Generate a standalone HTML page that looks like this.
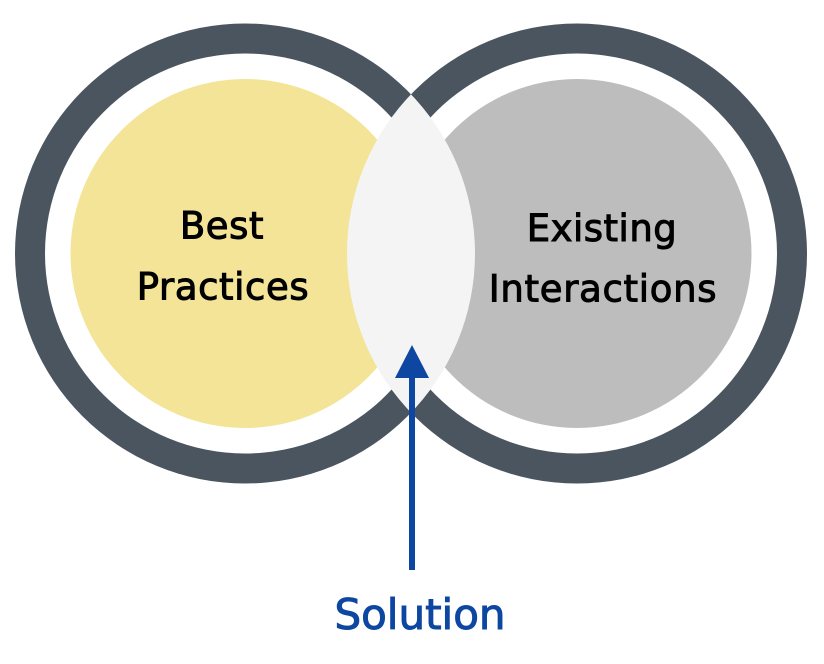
<!DOCTYPE html>
<html>
<head>
<meta charset="utf-8">
<style>
  html, body { margin: 0; padding: 0; background: #ffffff; }
  svg { display: block; }
  text { font-family: "DejaVu Sans", "Liberation Sans", sans-serif; }
</style>
</head>
<body>
<svg width="824" height="664" viewBox="0 0 824 664" xmlns="http://www.w3.org/2000/svg">
  <defs>
    <clipPath id="lensClip">
      <circle cx="245" cy="253.5" r="230"/>
    </clipPath>
  </defs>
  <!-- outer dark rings -->
  <circle cx="245" cy="253.5" r="230" fill="#4a5560"/>
  <circle cx="577" cy="253.5" r="230" fill="#4a5560"/>
  <!-- white inner discs -->
  <circle cx="245" cy="253.5" r="200" fill="#ffffff"/>
  <circle cx="577" cy="253.5" r="200" fill="#ffffff"/>
  <!-- filled circles -->
  <circle cx="245" cy="253.5" r="174.5" fill="#f3e497"/>
  <circle cx="577" cy="253.5" r="174.5" fill="#bdbdbd"/>
  <!-- lens intersection -->
  <circle cx="577" cy="253.5" r="230" fill="#f4f4f4" clip-path="url(#lensClip)"/>

  <!-- labels -->
  <g fill="#000" stroke="#000" stroke-width="1" font-size="37" text-anchor="middle">
    <text x="222" y="238.5" letter-spacing="0.6">Best</text>
    <text x="223" y="299.5" letter-spacing="0.6">Practices</text>
    <text x="602" y="241" letter-spacing="0.5">Existing</text>
    <text x="603" y="301.5" letter-spacing="0.7">Interactions</text>
  </g>

  <!-- arrow -->
  <rect x="409" y="375" width="6" height="195" fill="#0d47a1"/>
  <polygon points="412,345 395,378 429,378" fill="#0d47a1"/>

  <text x="420" y="629" font-size="42" text-anchor="middle" fill="#0d47a1" stroke="#0d47a1" stroke-width="1">Solution</text>
</svg>
</body>
</html>
